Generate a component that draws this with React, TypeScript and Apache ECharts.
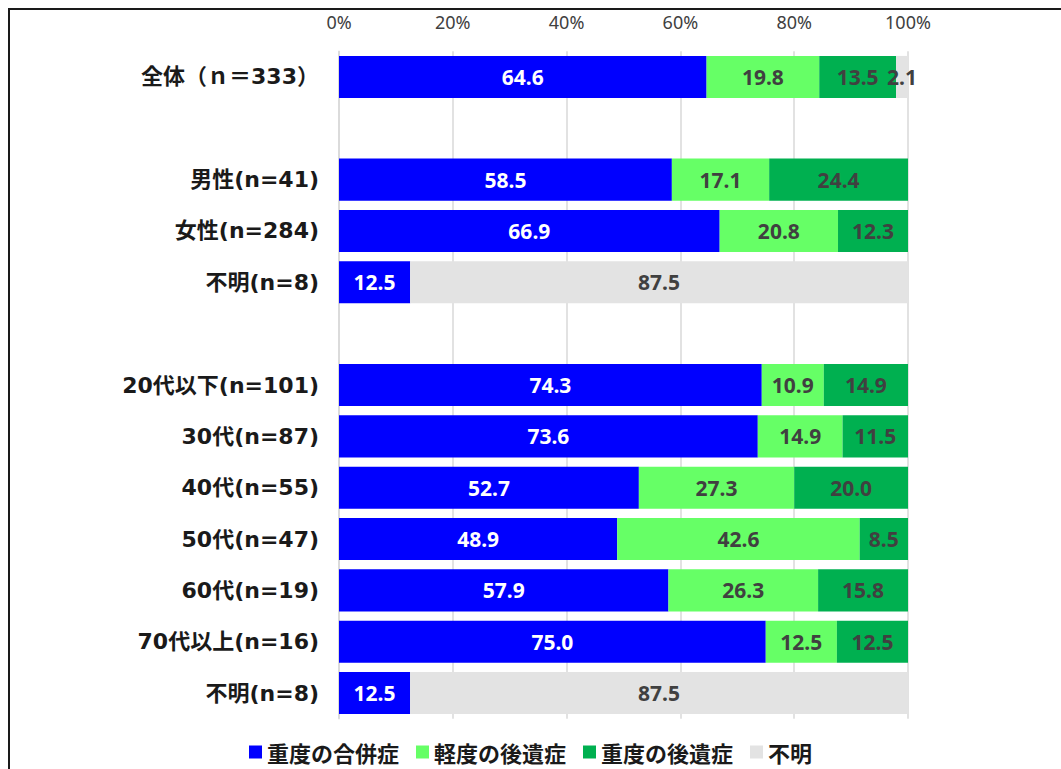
import React, { useEffect, useRef } from "react";
import * as echarts from "echarts";

const categories = [
  "全体（ｎ＝333）",
  "",
  "男性(n=41)",
  "女性(n=284)",
  "不明(n=8)",
  " ",
  "20代以下(n=101)",
  "30代(n=87)",
  "40代(n=55)",
  "50代(n=47)",
  "60代(n=19)",
  "70代以上(n=16)",
  "不明(n=8)",
];

const seriesNames = ["重度の合併症", "軽度の後遺症", "重度の後遺症", "不明"];
const seriesColors = ["#0000FF", "#66FF66", "#00B050", "#E3E3E3"];
const labelColors = ["#FFFFFF", "#404040", "#404040", "#404040"];

const severeComplication = [64.6, null, 58.5, 66.9, 12.5, null, 74.3, 73.6, 52.7, 48.9, 57.9, 75.0, 12.5];
const mildSequela = [19.8, null, 17.1, 20.8, null, null, 10.9, 14.9, 27.3, 42.6, 26.3, 12.5, null];
const severeSequela = [13.5, null, 24.4, 12.3, null, null, 14.9, 11.5, 20.0, 8.5, 15.8, 12.5, null];
const unknown = [2.1, null, null, null, 87.5, null, null, null, null, null, null, null, 87.5];

const seriesValues = [severeComplication, mildSequela, severeSequela, unknown];
const tickLabels = ["0%", "20%", "40%", "60%", "80%", "100%"];

const CJK = "'Noto Sans CJK JP', sans-serif";
const CAT_FONT = "'DejaVu Sans', 'Noto Sans CJK JP', sans-serif";
const NUM_FONT = "'Noto Sans', 'Noto Sans CJK JP', sans-serif";

export default function App() {
  const ref = useRef<HTMLDivElement>(null);
  useEffect(() => {
    if (!ref.current) return;
    const chart = echarts.init(ref.current, undefined, { renderer: "svg" });
    chart.setOption({
      animation: false,
      backgroundColor: "#FFFFFF",
      textStyle: { fontFamily: CJK },
      graphic: [
        {
          type: "rect",
          shape: { x: 9, y: 9, width: 1200, height: 900 },
          style: { fill: "none", stroke: "#1A1A1A", lineWidth: 2 },
          silent: true,
          z: 100,
        },
      ],
      grid: { left: 339, right: 153, top: 51.3, bottom: 50.3, containLabel: false },
      legend: {
        top: 736,
        left: "center",
        icon: "rect",
        itemWidth: 13,
        itemHeight: 13,
        itemGap: 17,
        textStyle: { fontFamily: CJK, fontSize: 22, fontWeight: "bold", color: "#1A1A1A" },
        data: seriesNames,
      },
      xAxis: {
        type: "value",
        position: "top",
        min: 0,
        max: 100,
        interval: 20,
        axisLine: { show: false },
        axisTick: { show: false },
        splitLine: { show: true, lineStyle: { color: "#D9D9D9", width: 1.5 } },
        axisLabel: {
          fontFamily: NUM_FONT,
          fontSize: 18,
          color: "#404040",
          margin: 20,
          formatter: (v: number) => tickLabels[Math.round(v / 20)],
        },
      },
      yAxis: {
        type: "category",
        inverse: true,
        data: categories,
        axisLine: { show: true, lineStyle: { color: "#D9D9D9", width: 1.5 } },
        axisTick: { show: false },
        axisLabel: {
          fontFamily: CAT_FONT,
          fontSize: 22,
          fontWeight: "bold",
          color: "#1A1A1A",
          margin: 20,
        },
      },
      series: seriesNames.map((name, i) => ({
        name,
        type: "bar",
        stack: "total",
        barCategoryGap: "18%",
        itemStyle: { color: seriesColors[i] },
        label: {
          show: true,
          position: "inside",
          fontFamily: NUM_FONT,
          fontSize: 21,
          fontWeight: "bold",
          color: labelColors[i],
          formatter: (p: any) => (p.value == null ? "" : Number(p.value).toFixed(1)),
        },
        data: seriesValues[i],
      })),
    });
    return () => chart.dispose();
  }, []);
  return (
    <div
      ref={ref}
      style={{ position: "fixed", left: 0, top: 0, width: 1061, height: 769 }}
    />
  );
}
